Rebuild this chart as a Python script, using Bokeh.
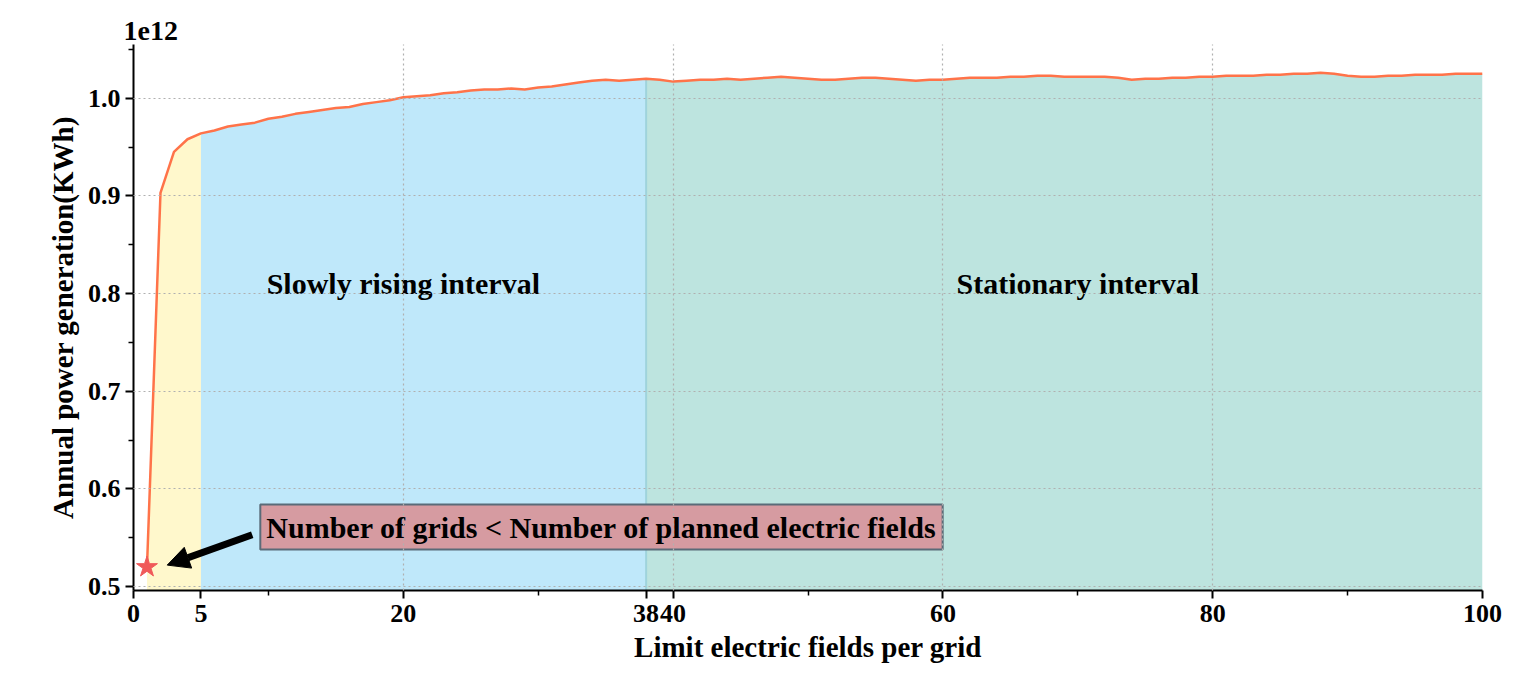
from bokeh.plotting import figure
from bokeh.models import Label, Arrow, NormalHead, FixedTicker, NumeralTickFormatter
from bokeh.embed import file_html
from bokeh.resources import INLINE

xs = list(range(1, 101))
power = [0.520, 0.903, 0.945, 0.958, 0.964, 0.967, 0.971, 0.973, 0.975, 0.979,
         0.981, 0.984, 0.986, 0.988, 0.990, 0.991, 0.994, 0.996, 0.998, 1.001,
         1.002, 1.003, 1.005, 1.006, 1.008, 1.009, 1.009, 1.010, 1.009, 1.011,
         1.012, 1.014, 1.016, 1.018, 1.019, 1.018, 1.019, 1.020, 1.019, 1.017,
         1.018, 1.019, 1.019, 1.020, 1.019, 1.020, 1.021, 1.022, 1.021, 1.020,
         1.019, 1.019, 1.020, 1.021, 1.021, 1.020, 1.019, 1.018, 1.019, 1.019,
         1.020, 1.021, 1.021, 1.021, 1.022, 1.022, 1.023, 1.023, 1.022, 1.022,
         1.022, 1.022, 1.021, 1.019, 1.020, 1.020, 1.021, 1.021, 1.022, 1.022,
         1.023, 1.023, 1.023, 1.024, 1.024, 1.025, 1.025, 1.026, 1.025, 1.023,
         1.022, 1.022, 1.023, 1.023, 1.024, 1.024, 1.024, 1.025, 1.025, 1.025]
bounds = [1, 5, 38, 100]
region_colors = ["#fff8cc", "#bfe8fa", "#bde4df"]
region_names = ["Slowly rising interval", "Stationary interval"]
region_text_x = [20, 70]
x_ticks = [0, 5, 20, 38, 40, 60, 80, 100]

FONT = "Liberation Serif"

p = figure(width=1512, height=682, x_range=(0, 100), y_range=(0.496, 1.055),
           output_backend="svg", toolbar_location=None,
           x_axis_label="Limit electric fields per grid",
           y_axis_label="Annual power generation(KWh)")
p.outline_line_color = None
p.min_border_left = 133
p.min_border_right = 30
p.min_border_top = 44
p.min_border_bottom = 92

for i, c in enumerate(region_colors):
    sx = [x for x in xs if bounds[i] <= x <= bounds[i + 1]]
    sy = [power[x - 1] for x in sx]
    p.varea(x=sx, y1=[0.49] * len(sx), y2=sy, fill_color=c, fill_alpha=1)
p.line([38, 38], [0.49, power[37]], line_color="#9fd3dc", line_width=2)

p.line(xs, power, line_color="#ff7349", line_width=2.5)
p.scatter([xs[0]], [power[0]], marker="star", size=22, color="#f05a5a")

p.add_layout(Arrow(end=NormalHead(size=22, fill_color="black", line_color="black"),
                   x_start=8.8, y_start=0.553, x_end=2.5, y_end=0.522,
                   line_width=7, line_color="black"))

p.add_layout(Label(x=9.4, y=0.561, text="Number of grids < Number of planned electric fields",
                   text_font=FONT, text_font_style="bold", text_font_size="30px",
                   text_color="black", text_baseline="middle",
                   background_fill_color="#d69ba1",
                   border_line_color="#5a6b78", border_line_width=2, padding=6))
for name, tx in zip(region_names, region_text_x):
    p.add_layout(Label(x=tx, y=0.81, text=name, text_font=FONT, text_font_style="bold",
                       text_font_size="30px", text_color="black",
                       text_align="center", text_baseline="middle"))

p.title.text = "1e12"
p.title.text_font = FONT
p.title.text_font_size = "28px"
p.title.text_font_style = "bold"
p.title.text_color = "black"
p.title.offset = -10

p.xaxis.ticker = FixedTicker(ticks=x_ticks, minor_ticks=[10, 30, 50, 70, 90])
p.yaxis.ticker = FixedTicker(ticks=[0.5, 0.6, 0.7, 0.8, 0.9, 1.0],
                             minor_ticks=[0.55, 0.65, 0.75, 0.85, 0.95, 1.05])
p.yaxis.formatter = NumeralTickFormatter(format="0.0")
for ax in (p.xaxis, p.yaxis):
    ax.axis_line_width = 2
    ax.major_tick_line_width = 2
    ax.minor_tick_line_width = 1.5
    ax.major_tick_out = 8
    ax.major_tick_in = 0
    ax.minor_tick_out = 5
    ax.minor_tick_in = 0
    ax.major_label_text_font = FONT
    ax.major_label_text_font_style = "bold"
    ax.major_label_text_font_size = "26px"
    ax.major_label_text_color = "black"
    ax.axis_label_text_font = FONT
    ax.axis_label_text_font_style = "bold"
    ax.axis_label_text_font_size = "29px"
    ax.axis_label_text_color = "black"
    ax.axis_label_standoff = 6
p.xaxis.major_label_standoff = 6

for g in (p.xgrid, p.ygrid):
    g.grid_line_color = "#b0b0b0"
    g.grid_line_dash = "2 3"
    g.grid_line_width = 1.2
    g.level = "overlay"
p.xgrid.ticker = FixedTicker(ticks=[20, 40, 60, 80, 100])

open("out.html", "w").write(file_html(p, INLINE))
